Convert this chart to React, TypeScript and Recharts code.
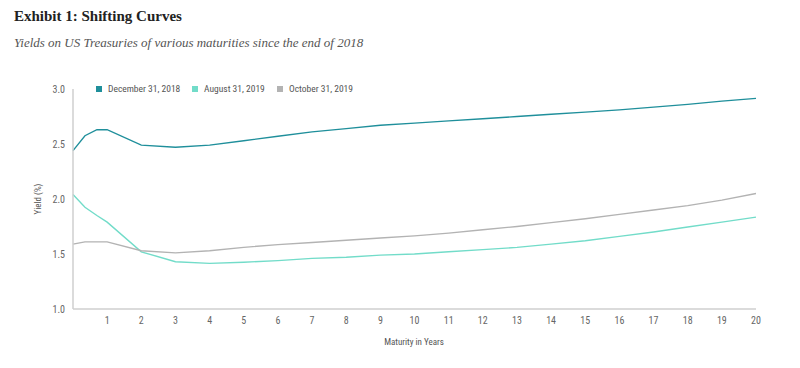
import { LineChart, Line, XAxis, YAxis } from 'recharts';

// maturities in years (first points are the short bills)
const maturities = [0, 0.35, 0.7, 1, 2, 3, 4, 5, 6, 7, 8, 9, 10, 11, 12, 13, 14, 15, 16, 17, 18, 19, 20];
const dec2018 = [2.44, 2.575, 2.63, 2.63, 2.49, 2.47, 2.49, 2.53, 2.57, 2.61, 2.64, 2.67, 2.69, 2.71, 2.73, 2.75, 2.77, 2.79, 2.81, 2.835, 2.86, 2.89, 2.915];
const aug2019 = [2.04, 1.925, 1.85, 1.79, 1.52, 1.43, 1.415, 1.425, 1.44, 1.46, 1.47, 1.49, 1.5, 1.52, 1.54, 1.56, 1.59, 1.62, 1.66, 1.7, 1.745, 1.79, 1.835];
const oct2019 = [1.59, 1.61, 1.61, 1.61, 1.53, 1.51, 1.53, 1.56, 1.585, 1.605, 1.625, 1.645, 1.665, 1.69, 1.72, 1.75, 1.785, 1.82, 1.86, 1.9, 1.94, 1.99, 2.05];
const xTicks = [1, 2, 3, 4, 5, 6, 7, 8, 9, 10, 11, 12, 13, 14, 15, 16, 17, 18, 19, 20];
const yTicks = [1.0, 1.5, 2.0, 2.5, 3.0];

const series = [
    { key: 'dec', name: 'December 31, 2018', color: '#1f8f9b', left: 96 },
    { key: 'aug', name: 'August 31, 2019', color: '#72dcc9', left: 192 },
    { key: 'oct', name: 'October 31, 2019', color: '#b3b3b3', left: 277 },
];

const chartData = maturities.map((m, i) => ({
    m,
    dec: dec2018[i],
    aug: aug2019[i],
    oct: oct2019[i],
}));

const sans = "'Liberation Sans Narrow', 'Roboto Condensed', Roboto, sans-serif";
const serif = "'Liberation Serif', serif";

export default function App() {
    return (
        <div style={{ position: 'absolute', left: 0, top: 0, width: 800, height: 368, background: '#fff', fontFamily: sans }}>
            <div style={{ position: 'absolute', left: 14, top: 8, fontFamily: serif, fontWeight: 'bold', fontSize: 15, color: '#222' }}>
                Exhibit 1: Shifting Curves
            </div>
            <div style={{ position: 'absolute', left: 14, top: 35, fontFamily: serif, fontStyle: 'italic', fontSize: 13, color: '#555' }}>
                Yields on US Treasuries of various maturities since the end of 2018
            </div>

            {series.map(s => (
                <div key={s.key} style={{ position: 'absolute', left: s.left, top: 83, display: 'flex', alignItems: 'center', fontSize: 9.5, color: '#555', whiteSpace: 'nowrap' }}>
                    <span style={{ width: 6, height: 6, background: s.color, display: 'inline-block', marginRight: 6 }} />
                    {s.name}
                </div>
            ))}

            <div style={{ position: 'absolute', left: 38, top: 199, transform: 'translate(-50%, -50%) rotate(-90deg)', fontSize: 9, color: '#555', whiteSpace: 'nowrap' }}>
                Yield (%)
            </div>
            <div style={{ position: 'absolute', left: 414, top: 342, transform: 'translate(-50%, -50%)', fontSize: 9, color: '#555', whiteSpace: 'nowrap' }}>
                Maturity in Years
            </div>

            <div style={{ position: 'absolute', left: 0, top: 0 }}>
                <LineChart width={800} height={368} data={chartData} margin={{ top: 89, right: 44, bottom: 29, left: 0 }}>
                    <XAxis
                        dataKey="m"
                        type="number"
                        domain={[0, 20]}
                        ticks={xTicks}
                        height={30}
                        tickLine={false}
                        axisLine={{ stroke: '#cfcfcf', strokeWidth: 1.5 }}
                        tick={{ fontSize: 10, fill: '#666', fontFamily: sans }}
                        interval={0}
                    />
                    <YAxis
                        type="number"
                        domain={[1, 3]}
                        ticks={yTicks}
                        width={73}
                        tickLine={false}
                        axisLine={{ stroke: '#cfcfcf', strokeWidth: 1.5 }}
                        tick={{ fontSize: 10, fill: '#666', fontFamily: sans }}
                        tickFormatter={(v: number) => v.toFixed(1)}
                        interval={0}
                    />
                    {series.map(s => (
                        <Line
                            key={s.key}
                            type="linear"
                            dataKey={s.key}
                            name={s.name}
                            stroke={s.color}
                            strokeWidth={1.4}
                            dot={false}
                            isAnimationActive={false}
                        />
                    ))}
                </LineChart>
            </div>
        </div>
    );
}
